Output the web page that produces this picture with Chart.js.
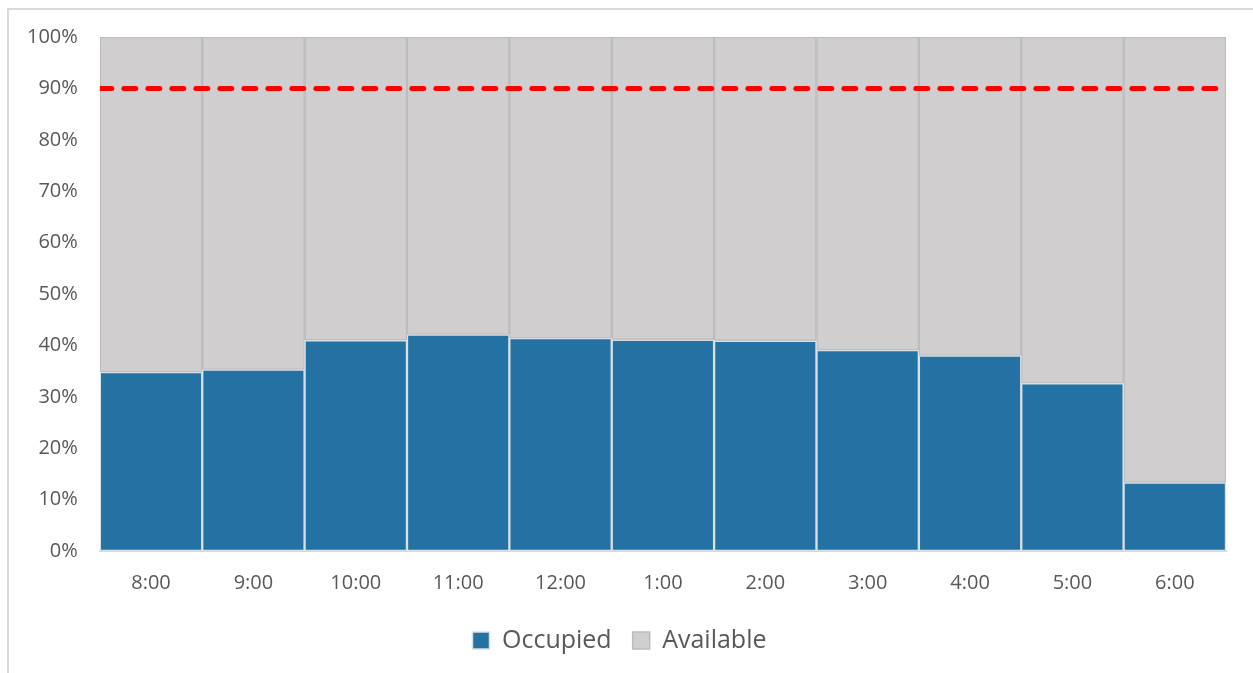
<!DOCTYPE html>
<html>
<head>
<meta charset="utf-8">
<script src="https://cdn.jsdelivr.net/npm/chart.js@4/dist/chart.umd.min.js"></script>
<style>
  html, body { margin: 0; padding: 0; background: #fff; }
  #frame { position: absolute; left: 7px; top: 8px; width: 1270px; height: 690px; border: 2px solid #d9d9d9; }
  #wrap { position: absolute; left: 0; top: 0; width: 1253px; height: 673px; }
</style>
</head>
<body>
<div id="frame"></div>
<div id="wrap"><canvas id="chart"></canvas></div>
<script>
// hourly occupancy, percent
const hours     = ['8:00','9:00','10:00','11:00','12:00','1:00','2:00','3:00','4:00','5:00','6:00'];
const occupied  = [34.8, 35.3, 41.0, 42.1, 41.4, 41.1, 40.9, 39.1, 38.0, 32.6, 13.3];
const available = [65.2, 64.7, 59.0, 57.9, 58.6, 58.9, 59.1, 60.9, 62.0, 67.4, 86.7];
const targetX   = [0, 1];
const target    = [90, 90];

const txt = '#595959';

new Chart(document.getElementById('chart'), {
  type: 'bar',
  data: {
    labels: hours,
    datasets: [{
      type: 'line',
      label: 'Target',
      data: targetX.map((x, i) => ({ x, y: target[i] })),
      xAxisID: 'x2',
      borderColor: '#ff0000',
      borderWidth: 5,
      borderDash: [12, 12],
      borderCapStyle: 'round',
      pointRadius: 0,
      fill: false,
      order: 0,
    }, {
      label: 'Occupied',
      data: occupied,
      backgroundColor: '#2372a3',
      borderColor: '#d8dfe5',
      borderWidth: 1.5,
      borderSkipped: false,
      grouped: false,
      stack: 's',
      order: 1,
    }, {
      label: 'Available',
      data: available,
      backgroundColor: '#d0cecf',
      borderColor: '#bdbcbc',
      borderWidth: 1.5,
      borderSkipped: false,
      grouped: false,
      stack: 's',
      order: 1,
    }]
  },
  options: {
    responsive: true, maintainAspectRatio: false, animation: false,
    layout: { padding: { top: 37, right: 27, left: 13, bottom: 10 } },
    datasets: { bar: { categoryPercentage: 1, barPercentage: 1 } },
    plugins: {
      tooltip: { enabled: false },
      legend: {
        position: 'bottom',
        labels: {
          filter: item => item.text !== 'Target',
          color: txt, boxWidth: 17, boxHeight: 17, padding: 21,
          font: { family: 'Open Sans', size: 25 }
        }
      }
    },
    scales: {
      x: {
        stacked: true,
        grid: { display: false },
        border: { color: '#d9d9d9', width: 2 },
        ticks: { color: txt, font: { family: 'Open Sans', size: 20 }, padding: 12 }
      },
      x2: { type: 'linear', min: 0, max: 1, display: false, offset: false },
      y: {
        stacked: true, min: 0, max: 100,
        grid: { display: false },
        border: { display: false },
        ticks: { stepSize: 10, color: txt, padding: 14, font: { family: 'Open Sans', size: 20 }, callback: v => v + '%' }
      }
    }
  }
});
</script>
</body>
</html>
